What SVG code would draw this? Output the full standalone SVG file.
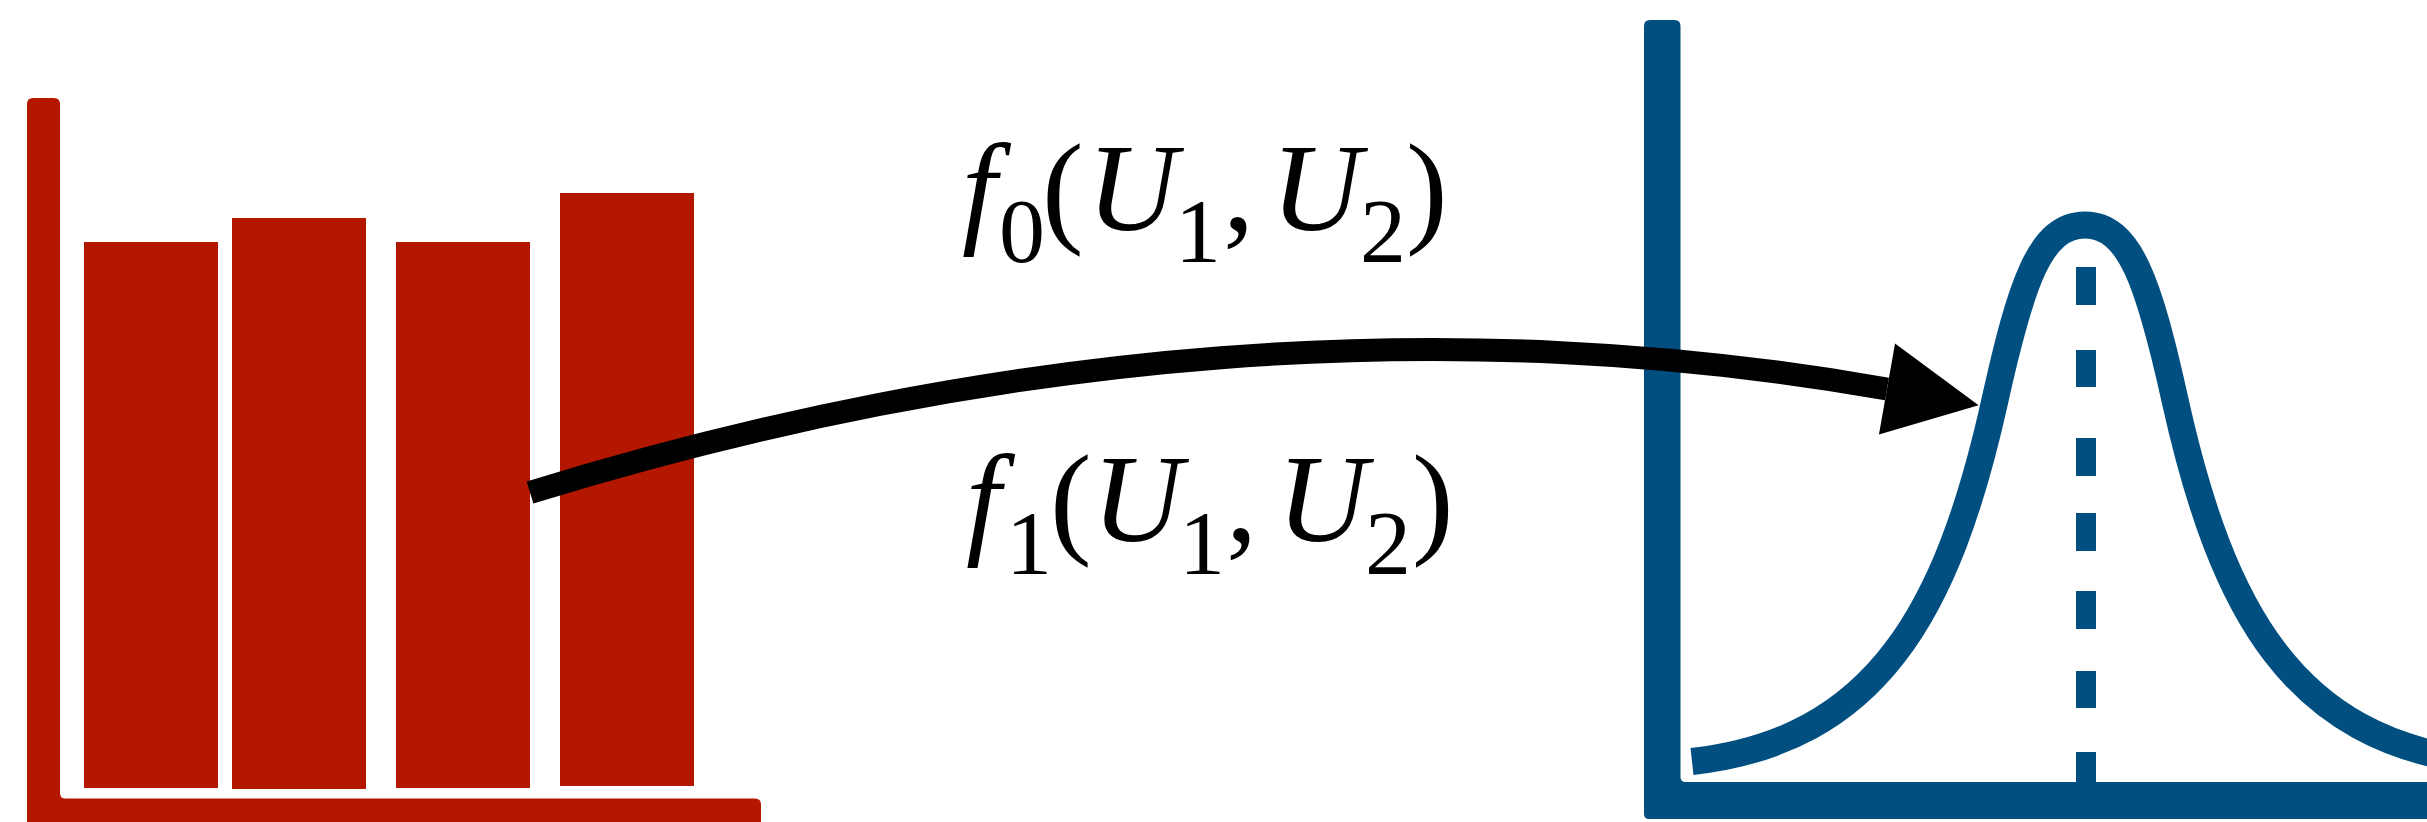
<svg xmlns="http://www.w3.org/2000/svg" width="2427" height="822" viewBox="0 0 2427 822">
  <style>
    .red { fill: #B41700; }
    .blue { fill: #004F80; }
    .curve { fill: none; stroke: #004F80; stroke-width: 27; stroke-linecap: butt; stroke-linejoin: round; }
    .conn { fill: none; stroke: #000; stroke-width: 23; stroke-linecap: butt; }
    text { font-family: 'Liberation Serif', 'Times New Roman', serif; fill: #000; font-size: 125px; }
    .it { font-style: italic; }
    .sub { font-size: 92px; }
  </style>
  <defs>
    <marker id="ah" markerUnits="userSpaceOnUse" markerWidth="100" markerHeight="100" refX="0" refY="46.3" orient="auto" overflow="visible">
      <path d="M0,0 L93,46.3 L0,92.6 Z" fill="#000"/>
    </marker>
  </defs>
  <rect width="2427" height="822" fill="#fff"/>

  <g id="bar-chart">
    <path class="red" d="M33,98 H54 Q60,98 60,104 V793 Q60,798.5 65.5,798.5 H755 Q761,798.5 761,804.5 V830 H27 V104 Q27,98 33,98 Z"/>
    <rect class="red" x="84" y="242" width="134" height="546"/>
    <rect class="red" x="232" y="218" width="134" height="571"/>
    <rect class="red" x="396" y="242" width="134" height="546"/>
    <rect class="red" x="560" y="193" width="134" height="593"/>
  </g>

  <g id="distribution">
    <path class="blue" d="M1650,20 H1674.5 Q1680.5,20 1680.5,26 V777 Q1680.5,782 1685.5,782 H2430 V819 H1649 Q1644,819 1644,814 V26 Q1644,20 1650,20 Z"/>
    <path class="curve" d="M1692,761.5 C1784,751.25 1848,713.875 1894.875,652.5625 C1941.75,591.25 1971.5,506 1995,400 C2008,341.5 2019.25,297.75 2032.875,268.625 C2046.5,239.5 2062.5,225 2085,225 C2107.5,225 2123.5,239.5 2137.125,268.625 C2150.75,297.75 2162,341.5 2175,400 C2198.5,506 2228.25,591.25 2275.125,652.5625 C2322,713.875 2386,751.25 2478,761.5"/>
    <g class="blue">
      <rect x="2076" y="267" width="20" height="38"/>
      <rect x="2076" y="350" width="20" height="37"/>
      <rect x="2076" y="438" width="20" height="38"/>
      <rect x="2076" y="513" width="20" height="38"/>
      <rect x="2076" y="591" width="20" height="38"/>
      <rect x="2076" y="671" width="20" height="37"/>
      <rect x="2076" y="752" width="20" height="32"/>
    </g>
  </g>

  <g id="connectors">
    <path class="conn" d="M530,492.5 C647.5,456.375 763.75,427.03 878.86,404.54 C993.97,382.05 1107.94,366.41 1220.875,357.69 C1333.81,348.97 1445.72,347.17 1556.7,352.37 C1667.69,357.56 1777.75,369.75 1887,389" marker-end="url(#ah)"/>
  </g>

  <g id="label-f0">
    <text class="it" x="962" y="230" textLength="34.75" lengthAdjust="spacingAndGlyphs">f</text>
    <text class="sub" x="999" y="262" textLength="46" lengthAdjust="spacingAndGlyphs">0</text>
    <text x="1042" y="230" textLength="41.6" lengthAdjust="spacingAndGlyphs">(</text>
    <text class="it" x="1087" y="230" textLength="90.25" lengthAdjust="spacingAndGlyphs">U</text>
    <text class="sub" x="1175" y="262" textLength="46" lengthAdjust="spacingAndGlyphs">1</text>
    <text x="1223" y="230" textLength="31.25" lengthAdjust="spacingAndGlyphs">,</text>
    <text class="it" x="1271" y="230" textLength="90.25" lengthAdjust="spacingAndGlyphs">U</text>
    <text class="sub" x="1360" y="262" textLength="46" lengthAdjust="spacingAndGlyphs">2</text>
    <text x="1406" y="230" textLength="41.6" lengthAdjust="spacingAndGlyphs">)</text>
  </g>

  <g id="label-f1">
    <text class="it" x="966" y="541" textLength="34.75" lengthAdjust="spacingAndGlyphs">f</text>
    <text class="sub" x="1006" y="574" textLength="46" lengthAdjust="spacingAndGlyphs">1</text>
    <text x="1050" y="541" textLength="41.6" lengthAdjust="spacingAndGlyphs">(</text>
    <text class="it" x="1092" y="541" textLength="90.25" lengthAdjust="spacingAndGlyphs">U</text>
    <text class="sub" x="1179" y="574" textLength="46" lengthAdjust="spacingAndGlyphs">1</text>
    <text x="1226" y="541" textLength="31.25" lengthAdjust="spacingAndGlyphs">,</text>
    <text class="it" x="1277" y="541" textLength="90.25" lengthAdjust="spacingAndGlyphs">U</text>
    <text class="sub" x="1365" y="574" textLength="46" lengthAdjust="spacingAndGlyphs">2</text>
    <text x="1412" y="541" textLength="41.6" lengthAdjust="spacingAndGlyphs">)</text>
  </g>
</svg>
